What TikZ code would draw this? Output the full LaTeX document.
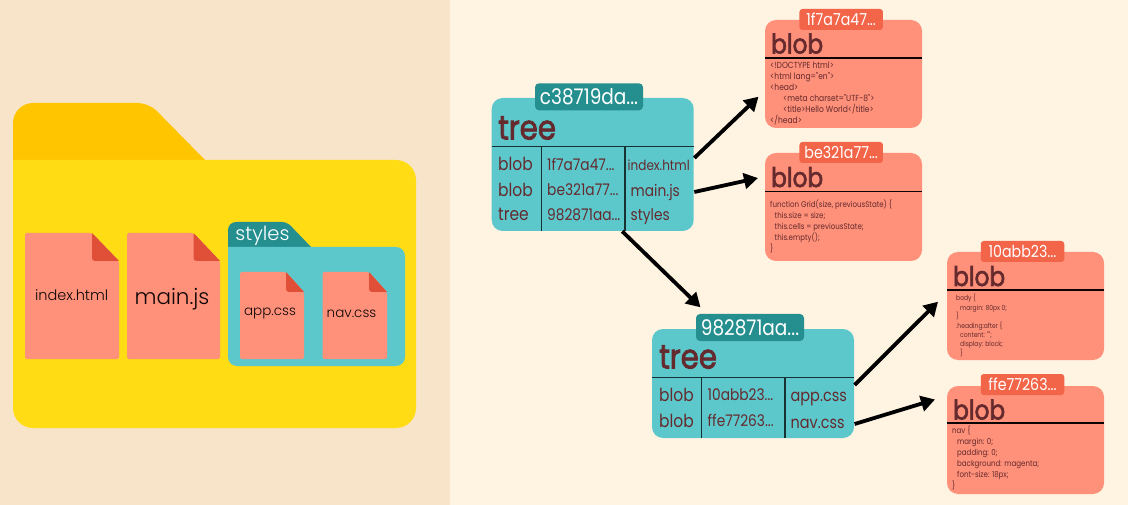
\documentclass[tikz,border=0pt]{standalone}
\usepackage{fontspec}
\usetikzlibrary{arrows.meta,calc}
\setmainfont{Poppins}
\newfontfamily\popl{Poppins Light}
\newfontfamily\spart{Poppins}[FakeStretch=0.86]
\newfontfamily\spartb{Poppins}[FakeStretch=0.86,FakeBold=2.2]
\definecolor{bgL}{HTML}{F8E4C8}
\definecolor{bgR}{HTML}{FFF3E2}
\definecolor{fBody}{HTML}{FFDC14}
\definecolor{fTab}{HTML}{FFC600}
\definecolor{teal}{HTML}{5CC8CC}
\definecolor{tealD}{HTML}{258F90}
\definecolor{salmon}{HTML}{FF9079}
\definecolor{salmonD}{HTML}{F26549}
\definecolor{foldc}{HTML}{E05038}
\definecolor{ink}{HTML}{642A2E}
\tikzset{
  x=1pt,y=-1pt,
  box/.style={inner sep=0pt,outer sep=0pt,rounded corners=11pt,anchor=north west},
  treebox/.style={box,fill=teal,minimum width=202pt,minimum height=133pt},
  blobbox/.style={box,fill=salmon,minimum width=157pt,minimum height=108pt},
  hashT/.style={inner sep=0pt,rounded corners=4pt,fill=tealD,text=white,minimum width=108pt,minimum height=27pt,font=\spart\fontsize{21.5}{21}\selectfont},
  hashB/.style={inner sep=0pt,rounded corners=3pt,fill=salmonD,text=white,minimum width=83.5pt,minimum height=21pt,font=\spart\fontsize{16.5}{16}\selectfont},
  bigT/.style={inner sep=0pt,anchor=base west,text=ink,font=\spartb\fontsize{34}{34}\selectfont},
  bigB/.style={bigT,font=\spartb\fontsize{27}{27}\selectfont},
  cell/.style={inner sep=0pt,anchor=base west,text=ink,font=\spart\fontsize{16}{16}\selectfont},
  cellk/.style={cell,font=\spart\fontsize{18}{18}\selectfont},
  cellc/.style={cell,font=\spart\fontsize{16.8}{16}\selectfont},
  hcell/.style={cell,font=\spart\fontsize{16}{16}\selectfont},
  idx/.style={cell,font=\spart\fontsize{14}{14}\selectfont},
  code/.style={inner sep=0pt,anchor=base west,text=ink,font=\spart\fontsize{8.2}{8}\selectfont},
  codea/.style={code,font=\spart\fontsize{8.8}{9}\selectfont},
  codeb/.style={code,font=\spart\fontsize{7}{8}\selectfont},
  fname/.style={inner sep=0pt,text=black!85!ink},
  arr/.style={draw=black,line width=3.8pt,-{Triangle[length=14pt,width=15.5pt]}},
  rule/.style={line width=1.1pt,draw=black!75!teal},
}
\newcommand{\docfile}[6]{% x1 x2 y1 y2 foldx foldy
  \fill[salmon,rounded corners=2pt] (#1,#3) -- (#5,#3) -- (#2,#6) -- (#2,#4) -- (#1,#4) -- cycle;
  \fill[foldc] (#5,#3) [rounded corners=3pt] -- (#5,#6) [sharp corners] -- (#2,#6) -- cycle;
}
\begin{document}
\begin{tikzpicture}
\useasboundingbox (0,0) rectangle (1128,505);
\fill[bgL] (0,0) rectangle (450,505);
\fill[bgR] (450,0) rectangle (1128,505);
% big folder
\fill[fTab] (13,161) [rounded corners=20pt] -- (13,103) [rounded corners=11pt] -- (149,103) [sharp corners] -- (205,160) -- (205,161) -- cycle;
\fill[fBody] (13,160) [rounded corners=20pt] -- (416,160) -- (416,428) -- (13,428) [sharp corners] -- cycle;
\fill[fBody] (13,160) rectangle (40,180);
\docfile{25}{119}{233}{359}{92}{261}
\docfile{127}{220}{233}{359}{193.5}{261}
% styles folder
\fill[tealD] (228,248) [rounded corners=8pt] -- (228,222) [rounded corners=5pt] -- (287,222) [sharp corners] -- (312,248) -- cycle;
\fill[teal] (228,247) [rounded corners=9pt] -- (405,247) -- (405,366) -- (228,366) [sharp corners] -- cycle;
\fill[teal] (228,247) rectangle (240,260);
\docfile{240}{304}{272}{359}{286}{292}
\docfile{322.5}{387}{272}{359}{369}{292}
\node[fname,text=white,font=\popl\fontsize{19.5}{20}\selectfont] (styleslabel) at (262.5,236) {styles};
\node[fname,font=\popl\fontsize{14.5}{15}\selectfont] (f1) at (71.7,295) {index.html};
\node[fname,font=\popl\fontsize{21.5}{22}\selectfont] (f2) at (172,299) {main.js};
\node[fname,font=\popl\fontsize{13.5}{14}\selectfont] (f3) at (270,314) {app.css};
\node[fname,font=\popl\fontsize{13.5}{14}\selectfont] (f4) at (351.5,314) {nav.css};
% tree 1
\node[treebox] (t1) at (491.7,98) {};
\draw[rule] (491.7,146.7) -- (693.7,146.7);
\draw[rule] (541.5,146.7) -- (541.5,231);
\draw[rule] (625,146.7) -- (625,231);
\node[hashT] (t1h) at (589,96.8) {c38719da...};
\node[bigT] (t1t) at (498,139.5) {tree};
\node[cellk] (t1a) at (498,171) {blob};
\node[cellk] (t1b) at (498,196.5) {blob};
\node[cellk] (t1c) at (498,221) {tree};
\node[hcell] (t1d) at (547,170.5) {1f7a7a47...};
\node[hcell] (t1e) at (547,196) {be321a77...};
\node[hcell] (t1f) at (547,220.5) {982871aa...};
\node[idx] (t1g) at (627.5,171) {index.html};
\node[cell] (t1i) at (630.5,197) {main.js};
\node[cell] (t1j) at (630.5,220.5) {styles};
% tree 2
\node[treebox,minimum height=109pt] (t2) at (652,329) {};
\draw[rule] (652,377.3) -- (854,377.3);
\draw[rule] (701.7,377.3) -- (701.7,438);
\draw[rule] (785,377.3) -- (785,438);
\node[hashT] (t2h) at (750,327.5) {982871aa...};
\node[bigT] (t2t) at (659,368.5) {tree};
\node[cellk] (t2a) at (659,401) {blob};
\node[cellk] (t2b) at (659,427) {blob};
\node[hcell] (t2c) at (707.5,400) {10abb23...};
\node[hcell] (t2d) at (707.5,426) {ffe77263...};
\node[cellc] (t2e) at (790.5,401.5) {app.css};
\node[cellc] (t2f) at (790.5,428) {nav.css};
% blob 1
\node[blobbox] (b1) at (765,20) {};
\draw[rule,draw=black!90!ink] (765,58) -- (922,58);
\node[hashB] (b1h) at (841.2,19.5) {1f7a7a47...};
\node[bigB] (b1t) at (771,53.5) {blob};
\node[codea] (b1a) at (770,69) {<!DOCTYPE html>};
\node[codea] (b1b) at (770,80) {<html lang="en">};
\node[codea] (b1c) at (770,91) {<head>};
\node[codea] (b1d) at (783,102) {<meta charset="UTF-8">};
\node[codea] (b1e) at (783,113) {<title>Hello World</title>};
\node[codea] (b1f) at (770,124) {</head>};
% blob 2
\node[blobbox] (b2) at (765,153) {};
\draw[rule,draw=black!90!ink] (765,191.5) -- (922,191.5);
\node[hashB] (b2h) at (841.2,152.5) {be321a77...};
\node[bigB] (b2t) at (771,187) {blob};
\node[code] (b2a) at (770,207.5) {function Grid(size, previousState) \{};
\node[code] (b2b) at (774.5,218.5) {this.size = size;};
\node[code] (b2c) at (774.5,229.5) {this.cells = previousState;};
\node[code] (b2d) at (774.5,240.5) {this.empty();};
\node[code] (b2e) at (770,251.5) {\}};
% blob 3
\node[blobbox] (b3) at (947,252) {};
\draw[rule,draw=black!90!ink] (947,290) -- (1104,290);
\node[hashB] (b3h) at (1022.5,251.5) {10abb23...};
\node[bigB] (b3t) at (953,286) {blob};
\node[codeb] (b3a) at (956,301) {body \{};
\node[codeb] (b3b) at (960,310.5) {margin: 80px 0;};
\node[codeb] (b3c) at (956,319) {\}};
\node[codeb] (b3d) at (956,328.5) {.heading:after \{};
\node[codeb] (b3e) at (960,337.5) {content: "";};
\node[codeb] (b3f) at (960,346.5) {display: block;};
\node[codeb] (b3g) at (960,355.5) {\}};
% blob 4
\node[blobbox] (b4) at (947,386) {};
\draw[rule,draw=black!90!ink] (947,423) -- (1104,423);
\node[hashB] (b4h) at (1022.5,384.5) {ffe77263...};
\node[bigB] (b4t) at (953,419.5) {blob};
\node[code] (b4a) at (952,433.5) {nav \{};
\node[code] (b4b) at (957,444.5) {margin: 0;};
\node[code] (b4c) at (957,455.5) {padding: 0;};
\node[code] (b4d) at (957,466) {background: magenta;};
\node[code] (b4e) at (957,477) {font-size: 18px;};
\node[code] (b4f) at (952,488) {\}};
% connectors
\draw[arr] ([shift={(0.6,-6.5)}]t1.east) -- ([shift={(-6.5,22.7)}]b1.west);
\draw[arr] ([shift={(0.6,27.5)}]t1.east) -- ([shift={(-7,-29)}]b2.west);
\draw[arr] ([shift={(29.5,0.3)}]t1.south) -- ([shift={(-49.5,-6.5)}]t2h.north);
\draw[arr] ([shift={(0.6,1.5)}]t2.east) -- ([shift={(-9,-4.3)}]b3.west);
\draw[arr] ([shift={(0.6,40.5)}]t2.east) -- ([shift={(-12,-40.5)}]b4.west);
\end{tikzpicture}
\end{document}
